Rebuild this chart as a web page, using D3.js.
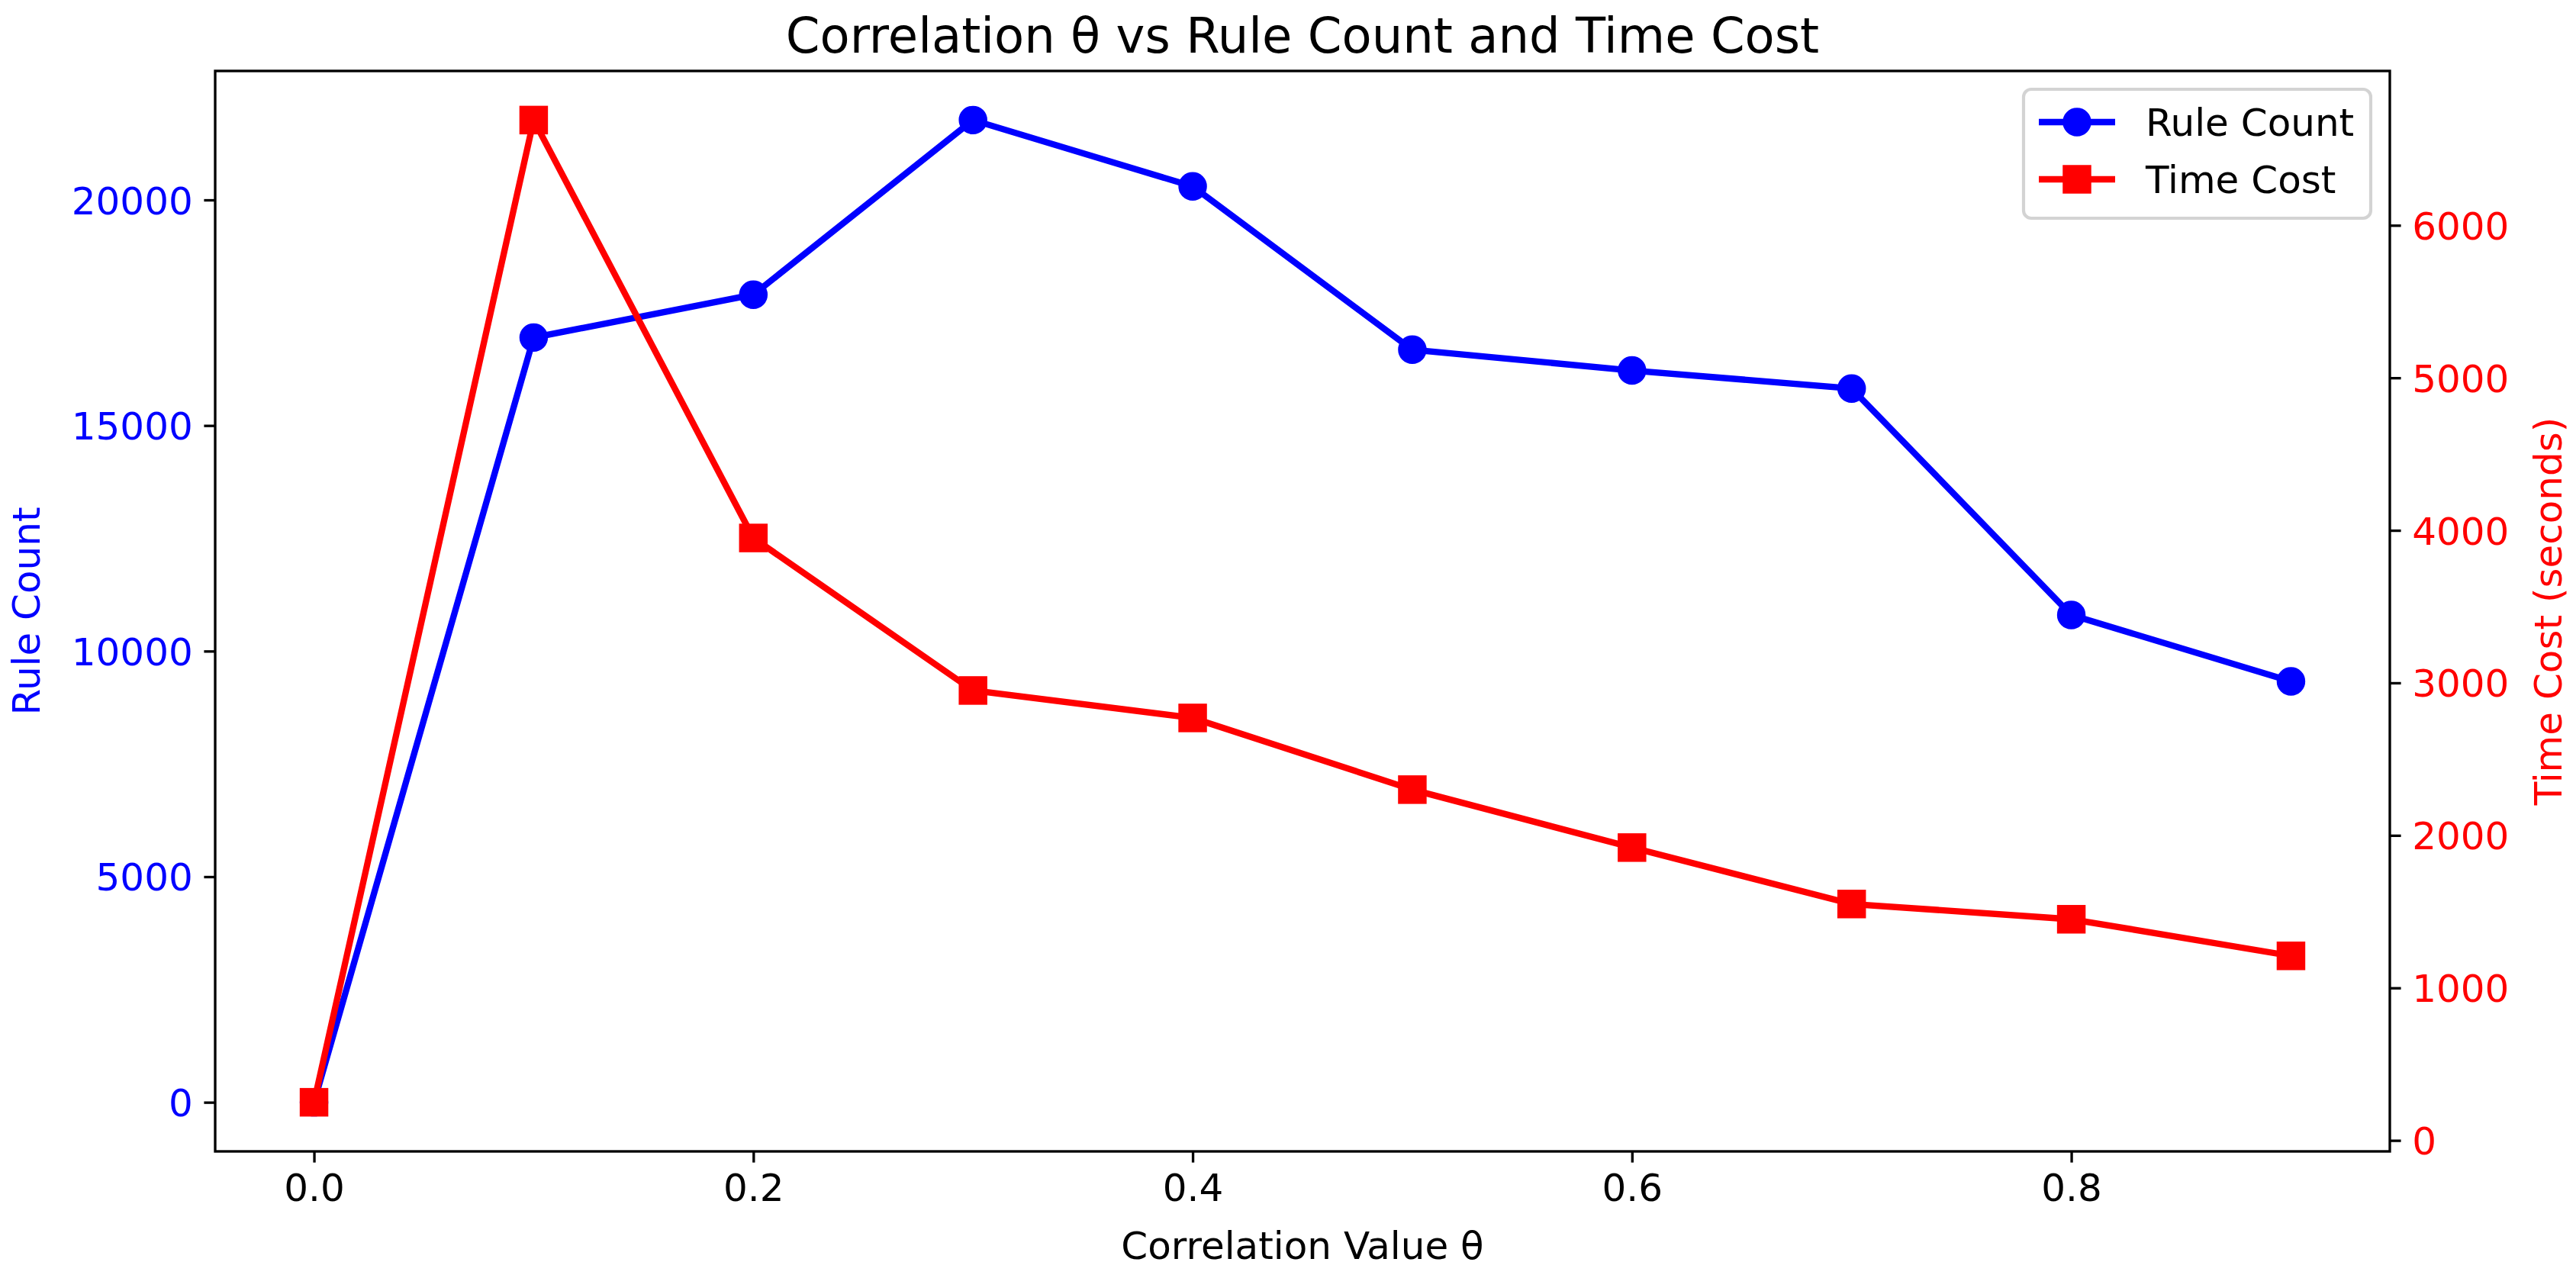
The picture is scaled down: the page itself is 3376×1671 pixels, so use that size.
<!DOCTYPE html>
<html>
<head>
<meta charset="utf-8">
<script src="https://cdn.jsdelivr.net/npm/d3@7"></script>
<style>
  body { margin: 0; background: #fff; }
  text { font-family: "DejaVu Sans", sans-serif; }
</style>
</head>
<body>
<div id="container"></div>
<script>
/* DATA */
const theta = [0.0, 0.1, 0.2, 0.3, 0.4, 0.5, 0.6, 0.7, 0.8, 0.9];
const ruleCount = [0, 16950, 17900, 21770, 20300, 16680, 16220, 15820, 10800, 9330];
const timeCost = [250, 6690, 3950, 2950, 2770, 2300, 1920, 1550, 1450, 1210];
const xTicks = [0.0, 0.2, 0.4, 0.6, 0.8];
const leftTicks = [0, 5000, 10000, 15000, 20000];
const rightTicks = [0, 1000, 2000, 3000, 4000, 5000, 6000];

/* LAYOUT */
const W = 3376, H = 1671;
const plot = {left: 282, right: 3132, top: 93, bottom: 1509};
const fs = 50;          // tick / label font px
const tickLen = 14.6;
const lw = 8.33;        // series line width
const ms = 33.3;        // marker size
const mew = 4.17;       // marker edge width

// matplotlib style 5% margins
function padded(vals) {
  const [a, b] = d3.extent(vals);
  const m = (b - a) * 0.05;
  return [a - m, b + m];
}

const x = d3.scaleLinear().domain(padded(theta)).range([plot.left, plot.right]);
const yL = d3.scaleLinear().domain(padded(ruleCount)).range([plot.bottom, plot.top]);
const yR = d3.scaleLinear().domain(padded(timeCost)).range([plot.bottom, plot.top]);

const svg = d3.select("#container")
  .append("svg")
    .attr("width", W)
    .attr("height", H);

svg.append("rect").attr("width", W).attr("height", H).attr("fill", "#fff");

/* AXES */
function styleAxis(g, color) {
  g.select(".domain").remove();
  g.selectAll(".tick line").attr("stroke", "#000").attr("stroke-width", 3.33);
  g.selectAll(".tick text")
    .attr("fill", color)
    .style("font-size", fs + "px")
    .style("font-family", "DejaVu Sans");
}

svg.append("g")
  .attr("transform", `translate(0,${plot.bottom})`)
  .call(d3.axisBottom(x).tickValues(xTicks).tickFormat(d3.format(".1f"))
    .tickSize(tickLen).tickPadding(tickLen))
  .call(g => styleAxis(g, "#000"))
  .selectAll(".tick text").attr("dy", "0.72em");

svg.append("g")
  .attr("transform", `translate(${plot.left},0)`)
  .call(d3.axisLeft(yL).tickValues(leftTicks).tickFormat(d3.format("d"))
    .tickSize(tickLen).tickPadding(tickLen))
  .call(g => styleAxis(g, "blue"))
  .selectAll(".tick text").attr("dy", "0.36em");

svg.append("g")
  .attr("transform", `translate(${plot.right},0)`)
  .call(d3.axisRight(yR).tickValues(rightTicks).tickFormat(d3.format("d"))
    .tickSize(tickLen).tickPadding(tickLen))
  .call(g => styleAxis(g, "red"))
  .selectAll(".tick text").attr("dy", "0.36em");

/* SERIES */
const rows = theta.map((t, i) => ({t, r: ruleCount[i], c: timeCost[i]}));

svg.append("path")
  .datum(rows)
  .attr("fill", "none")
  .attr("stroke", "blue")
  .attr("stroke-width", lw)
  .attr("stroke-linejoin", "round")
  .attr("d", d3.line().x(d => x(d.t)).y(d => yL(d.r)));

svg.selectAll("circle.rule")
  .data(rows)
  .join("circle")
  .attr("class", "rule")
  .attr("cx", d => x(d.t))
  .attr("cy", d => yL(d.r))
  .attr("r", ms / 2)
  .attr("fill", "blue")
  .attr("stroke", "blue")
  .attr("stroke-width", mew);

svg.append("path")
  .datum(rows)
  .attr("fill", "none")
  .attr("stroke", "red")
  .attr("stroke-width", lw)
  .attr("stroke-linejoin", "round")
  .attr("d", d3.line().x(d => x(d.t)).y(d => yR(d.c)));

svg.selectAll("rect.time")
  .data(rows)
  .join("rect")
  .attr("class", "time")
  .attr("x", d => x(d.t) - ms / 2)
  .attr("y", d => yR(d.c) - ms / 2)
  .attr("width", ms)
  .attr("height", ms)
  .attr("fill", "red")
  .attr("stroke", "red")
  .attr("stroke-width", mew);

/* FRAME */
svg.append("rect")
  .attr("x", plot.left)
  .attr("y", plot.top)
  .attr("width", plot.right - plot.left)
  .attr("height", plot.bottom - plot.top)
  .attr("fill", "none")
  .attr("stroke", "#000")
  .attr("stroke-width", 3.33);

/* LEGEND */
const leg = {x: 2652, y: 117, w: 455, h: 169};
svg.append("rect")
  .attr("x", leg.x).attr("y", leg.y)
  .attr("width", leg.w).attr("height", leg.h)
  .attr("rx", 10)
  .attr("fill", "#fff").attr("fill-opacity", 0.8)
  .attr("stroke", "#d3d3d3").attr("stroke-width", 4.17);

const legendItems = [
  {label: "Rule Count", color: "blue", shape: "circle"},
  {label: "Time Cost", color: "red", shape: "square"}
];

const li = svg.selectAll("g.leg")
  .data(legendItems)
  .join("g")
  .attr("class", "leg")
  .attr("transform", (d, i) => `translate(${leg.x + 20},${leg.y + 43 + i * 75})`);

li.append("line")
  .attr("x1", 0).attr("x2", 100)
  .attr("stroke", d => d.color)
  .attr("stroke-width", lw);

li.filter(d => d.shape === "circle").append("circle")
  .attr("cx", 50).attr("r", ms / 2)
  .attr("fill", d => d.color).attr("stroke", d => d.color).attr("stroke-width", mew);

li.filter(d => d.shape === "square").append("rect")
  .attr("x", 50 - ms / 2).attr("y", -ms / 2)
  .attr("width", ms).attr("height", ms)
  .attr("fill", d => d.color).attr("stroke", d => d.color).attr("stroke-width", mew);

li.append("text")
  .attr("x", 140)
  .attr("dy", "0.36em")
  .style("font-size", fs + "px")
  .text(d => d.label);

/* TITLES */
svg.append("text")
  .attr("x", (plot.left + plot.right) / 2)
  .attr("y", 69)
  .attr("text-anchor", "middle")
  .style("font-size", "64px")
  .text("Correlation θ vs Rule Count and Time Cost");

svg.append("text")
  .attr("x", (plot.left + plot.right) / 2)
  .attr("y", 1650)
  .attr("text-anchor", "middle")
  .style("font-size", fs + "px")
  .text("Correlation Value θ");

svg.append("text")
  .attr("transform", `translate(52,${(plot.top + plot.bottom) / 2}) rotate(-90)`)
  .attr("text-anchor", "middle")
  .attr("fill", "blue")
  .style("font-size", fs + "px")
  .text("Rule Count");

svg.append("text")
  .attr("transform", `translate(3357,${(plot.top + plot.bottom) / 2}) rotate(-90)`)
  .attr("text-anchor", "middle")
  .attr("fill", "red")
  .style("font-size", fs + "px")
  .text("Time Cost (seconds)");
</script>
</body>
</html>
